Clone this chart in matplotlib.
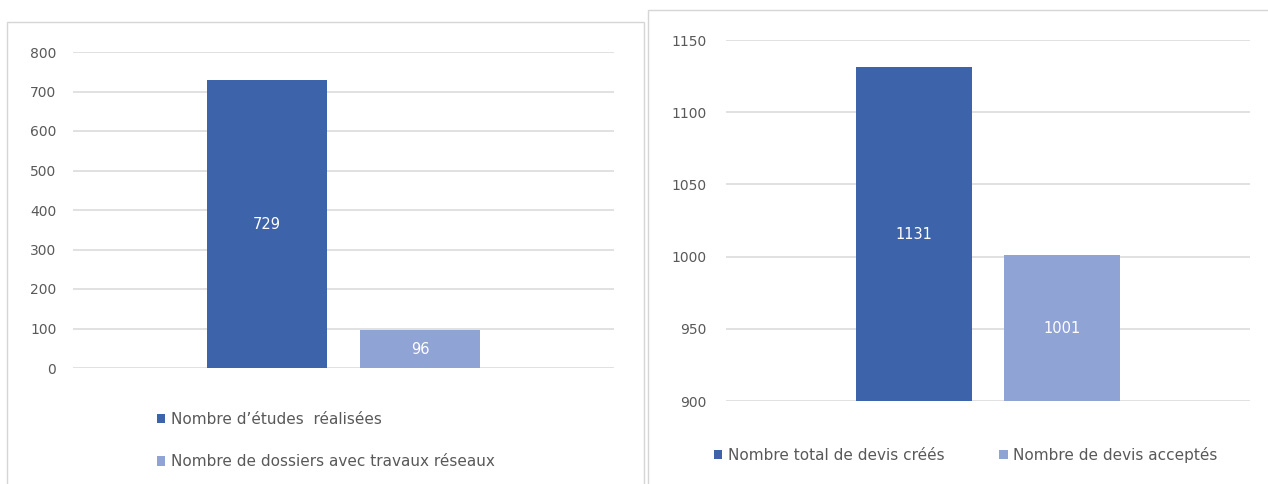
import matplotlib
matplotlib.use("Agg")
import matplotlib.pyplot as plt
from matplotlib.patches import Rectangle

# Data
left_labels = ["Nombre d\u2019études  réalisées", "Nombre de dossiers avec travaux réseaux"]
left_values = [729, 96]
left_ticks = [0, 100, 200, 300, 400, 500, 600, 700, 800]

right_labels = ["Nombre total de devis créés", "Nombre de devis acceptés"]
right_values = [1131, 1001]
right_ticks = [900, 950, 1000, 1050, 1100, 1150]

colors = ["#3D64AA", "#8FA3D4"]
grid_c = "#D9D9D9"
text_c = "#595959"

plt.rcParams['font.family'] = ['DejaVu Sans']

W, H = 1268, 484
fig = plt.figure(figsize=(W / 100, H / 100), dpi=100)

def fx(px):
    return px / W

def fy(py):
    return 1 - py / H

# panel borders
fig.patches.append(Rectangle((fx(7), fy(490)), fx(644) - fx(7), fy(22) - fy(490),
                             transform=fig.transFigure, fill=False, ec="#D6D6D6", lw=1.0))
fig.patches.append(Rectangle((fx(648), fy(490)), fx(1272) - fx(648), fy(10) - fy(490),
                             transform=fig.transFigure, fill=False, ec="#D6D6D6", lw=1.0))


def make_panel(rect, labels, values, ticks, ylim, xlim, width, pad):
    ax = fig.add_axes(rect)
    handles = []
    for i, (lab, v, c) in enumerate(zip(labels, values, colors)):
        b = ax.bar(i, v - ylim[0], bottom=ylim[0], width=width, color=c, label=lab, zorder=3)
        handles.append(b)
        ax.text(i, (v + ylim[0]) / 2, str(v), ha="center", va="center",
                color="white", fontsize=10.5, zorder=4)
    ax.set_ylim(*ylim)
    ax.set_xlim(*xlim)
    ax.set_yticks(ticks)
    ax.set_xticks([])
    ax.grid(axis="y", color=grid_c, lw=1.1, zorder=0)
    for s in ax.spines.values():
        s.set_visible(False)
    ax.tick_params(axis="y", length=0, pad=pad, labelsize=10, labelcolor=text_c)
    ax.set_facecolor("none")
    return ax, handles


axL, hL = make_panel([fx(73), fy(368), fx(614) - fx(73), fy(52) - fy(368)],
                     left_labels, left_values, left_ticks, (0, 800),
                     (-1.268, 2.268), 0.79, 12)
axR, hR = make_panel([fx(726), fy(401), fx(1250) - fx(726), fy(40) - fy(401)],
                     right_labels, right_values, right_ticks, (900, 1150),
                     (-1.264, 2.264), 0.78, 14)

legL = fig.legend(handles=hL, labels=left_labels, loc="upper left",
                  bbox_to_anchor=(fx(157), fy(412)), frameon=False,
                  fontsize=11, labelcolor=text_c, handlelength=0.55, handleheight=0.55,
                  handletextpad=0.35, labelspacing=1.8, borderaxespad=0, borderpad=0)
legR = fig.legend(handles=hR, labels=right_labels, loc="upper left",
                  bbox_to_anchor=(fx(714), fy(447)), frameon=False, ncol=2,
                  fontsize=11, labelcolor=text_c, handlelength=0.55, handleheight=0.55,
                  handletextpad=0.35, columnspacing=3.6, borderaxespad=0, borderpad=0)

fig.savefig("out.png", dpi=100, facecolor="white")
